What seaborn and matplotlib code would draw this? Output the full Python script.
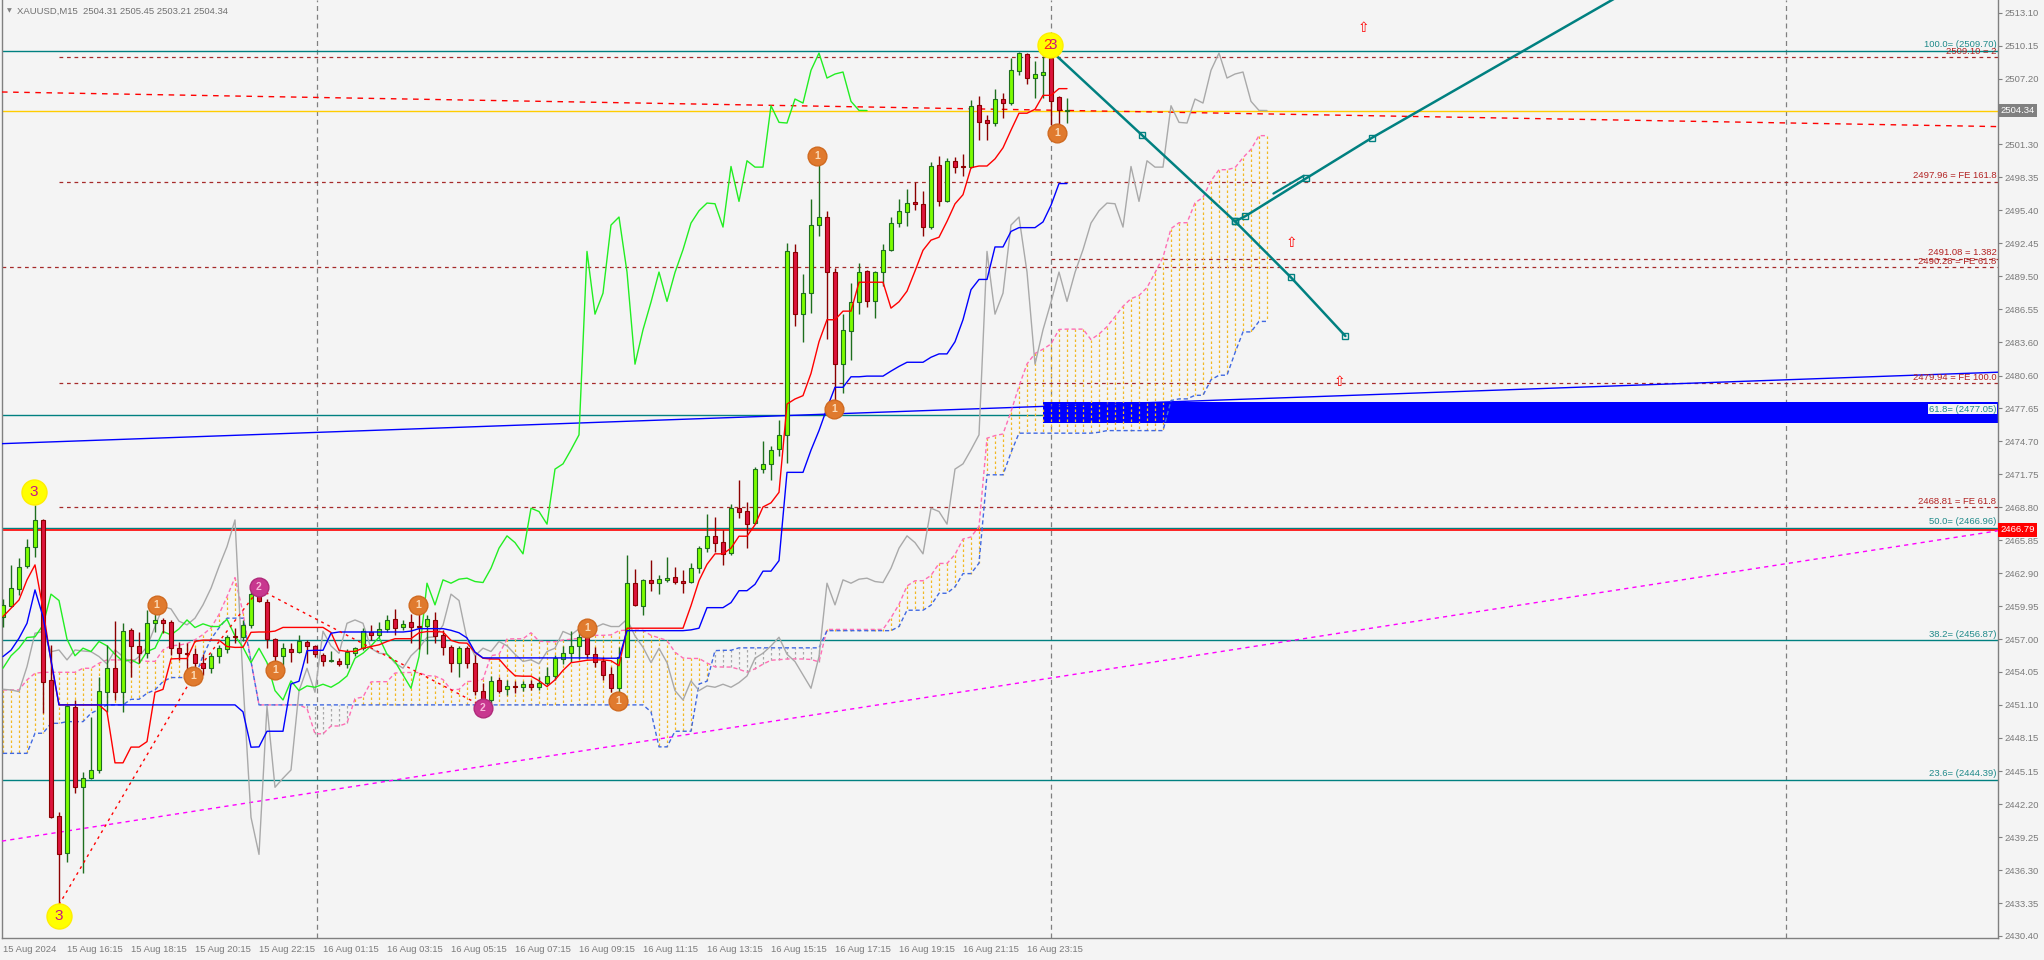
import matplotlib
matplotlib.use("Agg")
import matplotlib.pyplot as plt
import matplotlib.transforms as mtransforms
from matplotlib.patches import Rectangle
import seaborn as sns

# === Candles: XAUUSD M15, bar 0 = 15 Aug 14:15 ===
opens = [2459.01, 2460.0, 2461.46, 2463.55, 2465.28, 2467.67, 2453.34, 2441.15, 2437.8, 2450.95,
         2443.72, 2444.53, 2445.27, 2452.23, 2454.38, 2452.23, 2457.8, 2456.38, 2455.78, 2458.41,
         2458.71, 2458.5, 2456.17, 2455.73, 2455.64, 2454.84, 2454.39, 2455.44, 2456.09, 2457.23,
         2457.17, 2458.27, 2461.02, 2460.36, 2456.99, 2455.5, 2456.12, 2455.88, 2456.72, 2456.39,
         2455.58, 2455.05, 2455.05, 2454.78, 2455.79, 2456.18, 2457.67, 2457.37, 2457.88, 2458.77,
         2458.06, 2458.53, 2458.14, 2458.18, 2458.71, 2457.37, 2456.26, 2454.89, 2456.17, 2454.89,
         2452.38, 2451.54, 2453.34, 2452.5, 2452.8, 2452.68, 2452.98, 2452.68, 2453.1, 2453.69,
         2455.19, 2455.73, 2456.38, 2457.28, 2455.64, 2455.04, 2453.87, 2452.59, 2455.43, 2462.0,
         2460.0, 2462.3, 2462.0, 2462.3, 2462.54, 2462.21, 2462.09, 2463.34, 2465.14, 2466.24,
         2465.67, 2464.69, 2468.78, 2468.48, 2467.38, 2472.22, 2472.66, 2474.01, 2475.29, 2491.66,
         2486.1, 2487.98, 2494.08, 2494.8, 2489.87, 2481.62, 2484.61, 2487.18, 2489.93, 2487.24,
         2489.84, 2491.81, 2494.26, 2495.24, 2496.17, 2495.99, 2493.9, 2499.48, 2496.2, 2499.84,
         2499.39, 2499.27, 2504.83, 2503.46, 2503.22, 2505.37, 2505.01, 2507.85, 2509.43, 2507.25,
         2507.55, 2509.04, 2505.55, 2504.31]
highs = [2460.57, 2463.6, 2464.24, 2465.97, 2469.0, 2467.76, 2456.47, 2441.54, 2451.1, 2451.54,
         2445.12, 2450.05, 2453.57, 2456.47, 2458.62, 2458.4, 2457.97, 2457.67, 2459.61, 2460.0,
         2458.86, 2458.71, 2456.77, 2456.63, 2456.18, 2455.64, 2455.73, 2456.48, 2457.38, 2457.97,
         2458.72, 2461.41, 2461.47, 2460.57, 2457.05, 2456.63, 2456.63, 2457.38, 2456.93, 2456.45,
         2455.73, 2455.94, 2455.29, 2456.09, 2456.33, 2457.97, 2458.27, 2458.56, 2459.16, 2459.67,
         2458.71, 2459.25, 2459.61, 2459.16, 2459.46, 2457.82, 2456.47, 2456.38, 2456.38, 2455.58,
         2453.1, 2453.69, 2453.64, 2453.34, 2453.28, 2453.28, 2453.34, 2453.58, 2454.53, 2455.58,
         2456.38, 2457.76, 2457.82, 2457.67, 2456.26, 2455.37, 2454.53, 2456.32, 2464.54, 2463.25,
         2462.36, 2464.09, 2462.75, 2464.39, 2463.49, 2463.19, 2463.85, 2465.29, 2468.21, 2467.97,
         2466.78, 2469.11, 2471.26, 2469.23, 2472.4, 2474.76, 2474.31, 2476.64, 2492.46, 2492.4,
         2489.72, 2496.44, 2499.93, 2495.3, 2490.22, 2486.1, 2488.88, 2490.67, 2490.08, 2489.93,
         2492.4, 2494.8, 2496.44, 2497.3, 2497.9, 2497.09, 2499.72, 2500.23, 2500.08, 2500.14,
         2500.47, 2505.31, 2505.61, 2503.96, 2506.26, 2505.91, 2509.04, 2509.6, 2509.5, 2508.74,
         2509.19, 2509.7, 2505.61, 2505.45]
lows = [2458.11, 2459.9, 2460.95, 2463.34, 2464.33, 2450.35, 2440.94, 2433.2, 2437.06, 2443.18,
        2436.01, 2444.46, 2444.97, 2450.44, 2451.54, 2450.5, 2453.57, 2454.83, 2455.28, 2457.67,
        2457.52, 2455.58, 2455.13, 2453.79, 2453.94, 2453.79, 2453.94, 2454.84, 2455.73, 2456.63,
        2456.78, 2457.97, 2460.3, 2456.18, 2454.6, 2454.69, 2454.9, 2455.73, 2454.84, 2455.38,
        2454.6, 2454.9, 2454.6, 2454.39, 2455.44, 2456.03, 2456.92, 2457.22, 2457.67, 2457.37,
        2457.82, 2456.68, 2456.08, 2455.67, 2456.68, 2455.58, 2454.08, 2453.64, 2454.38, 2451.99,
        2450.95, 2451.1, 2452.14, 2451.99, 2452.14, 2452.38, 2452.44, 2452.44, 2452.89, 2453.34,
        2454.77, 2454.98, 2455.19, 2455.28, 2454.53, 2453.34, 2452.29, 2451.4, 2455.43, 2459.97,
        2459.16, 2461.34, 2461.04, 2462.15, 2461.94, 2461.16, 2462.06, 2462.9, 2464.84, 2464.84,
        2463.64, 2464.54, 2467.82, 2465.14, 2467.32, 2471.86, 2471.26, 2473.35, 2472.81, 2485.06,
        2483.65, 2486.19, 2493.12, 2483.86, 2477.98, 2479.02, 2482.01, 2486.1, 2486.73, 2485.74,
        2488.58, 2491.72, 2493.9, 2494.02, 2495.45, 2493.12, 2493.75, 2495.75, 2496.11, 2498.74,
        2498.44, 2499.18, 2501.72, 2501.72, 2502.98, 2503.66, 2504.86, 2507.55, 2506.74, 2505.46,
        2505.46, 2503.07, 2502.9, 2503.21]
closes = [2460.06, 2461.55, 2463.49, 2465.28, 2467.67, 2453.19, 2441.03, 2437.71, 2451.0, 2443.72,
          2444.53, 2445.27, 2452.35, 2454.38, 2452.23, 2457.7, 2456.38, 2455.72, 2458.41, 2458.71,
          2458.41, 2456.17, 2455.72, 2455.67, 2454.84, 2454.39, 2455.5, 2456.18, 2457.14, 2457.2,
          2458.24, 2461.02, 2460.45, 2456.99, 2455.5, 2456.18, 2455.88, 2456.78, 2456.39, 2455.64,
          2454.99, 2455.14, 2454.78, 2455.88, 2456.18, 2457.68, 2457.37, 2457.91, 2458.71, 2458.03,
          2458.36, 2458.12, 2458.12, 2458.77, 2457.28, 2456.26, 2454.89, 2456.17, 2454.89, 2452.38,
          2451.54, 2453.25, 2452.38, 2452.8, 2452.68, 2452.95, 2452.68, 2453.1, 2453.69, 2455.28,
          2455.73, 2456.38, 2457.16, 2455.64, 2454.98, 2453.78, 2452.59, 2455.43, 2462.0, 2460.06,
          2462.3, 2462.0, 2462.36, 2462.45, 2462.15, 2462.06, 2463.34, 2465.14, 2466.24, 2465.64,
          2464.63, 2468.72, 2468.42, 2467.29, 2472.22, 2472.69, 2473.95, 2475.29, 2491.72, 2486.1,
          2487.98, 2494.08, 2494.8, 2489.87, 2481.62, 2484.7, 2487.18, 2489.87, 2487.24, 2489.84,
          2491.87, 2494.26, 2495.36, 2496.05, 2495.99, 2493.9, 2499.33, 2496.2, 2499.84, 2499.27,
          2499.27, 2504.77, 2503.28, 2503.22, 2505.37, 2505.01, 2507.94, 2509.49, 2507.25, 2507.61,
          2507.79, 2505.16, 2504.35, 2504.34]

# === Ichimoku lines ===
tenkan = [2459.01, 2459.76, 2460.5, 2462.3, 2463.64, 2459.68, 2454.97, 2451.1, 2451.1, 2451.1,
          2451.1, 2451.1, 2451.1, 2450.48, 2445.91, 2445.91, 2447.32, 2447.32, 2447.81, 2452.23,
          2452.49, 2455.22, 2455.25, 2455.25, 2456.79, 2456.9, 2456.9, 2456.9, 2456.33, 2456.25,
          2456.26, 2457.6, 2457.63, 2457.63, 2457.71, 2458.04, 2458.04, 2458.04, 2458.04, 2458.04,
          2458.04, 2457.59, 2455.99, 2455.89, 2455.89, 2456.18, 2456.33, 2456.48, 2456.78, 2457.03,
          2457.03, 2457.03, 2457.56, 2457.67, 2457.67, 2457.63, 2456.88, 2456.66, 2456.63, 2455.8,
          2455.28, 2455.21, 2455.21, 2454.39, 2453.71, 2453.67, 2453.67, 2453.27, 2452.74, 2453.34,
          2454.19, 2454.88, 2454.98, 2455.1, 2455.13, 2455.13, 2455.06, 2454.61, 2457.97, 2457.97,
          2457.97, 2457.97, 2457.97, 2457.97, 2457.97, 2457.97, 2459.99, 2462.23, 2463.69, 2464.63,
          2464.63, 2465.14, 2466.21, 2466.21, 2467.23, 2468.83, 2469.2, 2470.14, 2478.05, 2478.5,
          2478.8, 2480.79, 2483.63, 2485.6, 2485.6, 2486.37, 2486.37, 2488.96, 2488.96, 2488.96,
          2488.96, 2486.64, 2487.21, 2488.16, 2489.96, 2491.82, 2492.73, 2492.99, 2494.41, 2495.98,
          2496.8, 2499.22, 2499.37, 2499.37, 2500.01, 2501.0, 2502.58, 2504.1, 2504.1, 2504.45,
          2505.7, 2505.7, 2506.3, 2506.3]
kijun = ([2455.43, 2456.0, 2457.07, 2458.41, 2461.4, 2459.0, 2455.13] + [2451.1] * 23 +
         [2450.48, 2447.31, 2447.34, 2448.74, 2448.74, 2448.74, 2452.97, 2453.22, 2455.96, 2455.99,
          2455.99, 2457.52] + [2457.63] * 9 +
         [2457.71, 2457.93, 2457.93, 2457.93, 2457.93, 2457.78, 2457.56, 2457.1, 2455.83] +
         [2455.31] * 15 + [2455.28] * 3 + [2457.75] * 8 +
         [2457.82, 2457.97, 2459.81, 2459.81, 2459.81, 2460.26, 2461.33, 2461.33, 2461.9, 2463.08,
          2463.08, 2464.02, 2471.93, 2471.93, 2471.93, 2473.92, 2475.67, 2477.68, 2479.55, 2479.55,
          2480.49, 2480.49, 2480.55, 2480.55, 2480.55, 2481.0, 2481.42, 2481.79, 2481.79, 2481.79,
          2482.24, 2482.54, 2482.54, 2483.63, 2485.6, 2488.29, 2489.21, 2489.21, 2492.12, 2492.12,
          2493.51, 2493.85, 2493.85, 2493.85, 2494.36, 2495.85, 2497.8, 2497.8])
chikou = [2454.39, 2455.5, 2456.18, 2457.14, 2457.2, 2458.24, 2461.02, 2460.45, 2456.99, 2455.5,
          2456.18, 2455.88, 2456.78, 2456.39, 2455.64, 2454.99, 2455.14, 2454.78, 2455.88, 2456.18,
          2457.68, 2457.37, 2457.91, 2458.71, 2458.03, 2458.36, 2458.12, 2458.12, 2458.77, 2457.28,
          2456.26, 2454.89, 2456.17, 2454.89, 2452.38, 2451.54, 2453.25, 2452.38, 2452.8, 2452.68,
          2452.95, 2452.68, 2453.1, 2453.69, 2455.28, 2455.73, 2456.38, 2457.16, 2455.64, 2454.98,
          2453.78, 2452.59, 2455.43, 2462.0, 2460.06, 2462.3, 2462.0, 2462.36, 2462.45, 2462.15,
          2462.06, 2463.34, 2465.14, 2466.24, 2465.64, 2464.63, 2468.72, 2468.42, 2467.29, 2472.22,
          2472.69, 2473.95, 2475.29, 2491.72, 2486.1, 2487.98, 2494.08, 2494.8, 2489.87, 2481.62,
          2484.7, 2487.18, 2489.87, 2487.24, 2489.84, 2491.87, 2494.26, 2495.36, 2496.05, 2495.99,
          2493.9, 2499.33, 2496.2, 2499.84, 2499.27, 2499.27, 2504.77, 2503.28, 2503.22, 2505.37,
          2505.01, 2507.94, 2509.49, 2507.25, 2507.61, 2507.79, 2505.16, 2504.35, 2504.34]
span_a = ([2452.44, 2452.44, 2452.44, 2453.34, 2453.93, 2454.02, 2454.02, 2454.02, 2454.02, 2454.02,
           2454.38, 2454.38, 2454.83, 2455.13, 2455.13, 2455.13, 2455.13, 2455.13, 2455.0, 2455.0,
           2456.02, 2456.4, 2456.45, 2456.6, 2456.93, 2457.4, 2458.0, 2459.2, 2460.8, 2462.5,
           2459.34, 2455.05] + [2451.1] * 6 +
          [2450.79, 2448.51, 2448.51, 2449.21, 2449.21, 2449.46, 2451.67, 2451.8, 2453.16, 2453.18,
           2453.18, 2453.95, 2454.0, 2454.0, 2454.0, 2453.72, 2453.68, 2453.37, 2452.46, 2452.49,
           2453.19, 2453.23, 2453.39, 2455.51, 2455.63, 2457.0, 2457.02, 2457.02, 2457.56, 2456.81,
           2456.76, 2456.76, 2456.91, 2456.98, 2457.06, 2457.21, 2457.33, 2457.33, 2457.37, 2457.75,
           2457.8, 2457.8, 2457.78, 2457.33, 2457.11, 2456.87, 2455.82, 2455.3, 2455.26, 2455.26,
           2454.85, 2454.51, 2454.49, 2454.49, 2454.29, 2454.03, 2454.33, 2454.75, 2455.1, 2455.15,
           2455.21, 2455.22, 2455.21, 2455.17, 2454.95] + [2457.86] * 8 +
          [2458.91, 2460.1, 2461.75, 2462.22, 2462.22, 2462.7, 2463.77, 2463.77, 2464.57, 2465.96,
           2466.14, 2467.08, 2474.99, 2475.22, 2475.37, 2477.36, 2479.65, 2481.64, 2482.58, 2482.96,
           2483.43, 2484.73, 2484.76, 2484.76, 2484.76, 2483.82, 2484.32, 2484.98, 2485.88, 2486.81,
           2487.49, 2487.77, 2488.48, 2489.81, 2491.2, 2493.76, 2494.29, 2494.29, 2496.07, 2496.56,
           2498.05, 2499.04, 2499.04, 2499.22, 2500.12, 2500.86, 2502.09, 2502.09])
span_b = ([2446.76] * 4 + [2448.56] * 2 + [2449.45] * 2 + [2449.6] * 3 + [2450.35, 2450.7] +
          [2451.1] * 3 + [2451.6] * 2 + [2452.14, 2452.44, 2453.19] + [2453.55] * 4 +
          [2455.5, 2457.0, 2458.0] + [2458.87] * 3 + [2454.97] + [2451.1] * 49 +
          [2450.48, 2447.34, 2447.34, 2448.74, 2448.74, 2448.74, 2452.97, 2453.22, 2455.96, 2455.99,
           2455.99] + [2456.21] * 11 + [2457.75] * 9 +
          [2458.12, 2459.58, 2459.58, 2459.58, 2460.03, 2461.1, 2461.1, 2461.68, 2462.86, 2462.86,
           2463.8, 2471.71, 2471.71, 2471.71, 2473.7] + [2475.44] * 10 + [2475.52] + [2475.67] * 8 +
          [2478.36, 2478.51, 2478.51, 2478.83, 2478.83, 2480.22, 2480.63, 2480.63, 2482.64, 2484.51,
           2484.51, 2485.45, 2485.45])
grey_line = [2452.5, 2452.44, 2452.29, 2454.53, 2457.52, 2457.67, 2455.87, 2456.02, 2455.13, 2456.02,
             2455.93, 2455.87, 2455.43, 2454.77, 2456.02, 2455.43, 2454.83, 2455.43, 2456.32, 2458.12,
             2459.91, 2459.7, 2458.6, 2458.27, 2458.87] + closes

# === Axes, ticks ===
x_tick_pos = [0, 8, 16, 24, 32, 40, 48, 56, 64, 72, 80, 88, 96, 104, 112, 120, 128]
x_tick_labels = ["15 Aug 2024", "15 Aug 16:15", "15 Aug 18:15", "15 Aug 20:15", "15 Aug 22:15",
                 "16 Aug 01:15", "16 Aug 03:15", "16 Aug 05:15", "16 Aug 07:15", "16 Aug 09:15",
                 "16 Aug 11:15", "16 Aug 13:15", "16 Aug 15:15", "16 Aug 17:15", "16 Aug 19:15",
                 "16 Aug 21:15", "16 Aug 23:15"]
y_tick_pos = [2430.40, 2433.35, 2436.30, 2439.25, 2442.20, 2445.15, 2448.15, 2451.10, 2454.05, 2457.00,
              2459.95, 2462.90, 2465.85, 2468.80, 2471.75, 2474.70, 2477.65, 2480.60, 2483.60, 2486.55,
              2489.50, 2492.45, 2495.40, 2498.35, 2501.30, 2504.25, 2507.20, 2510.15, 2513.10]
hidden_tick = 2504.25   # covered by the last-price box
separators = [39.2, 131.0, 222.9]

# === Objects ===
fib_levels = [2509.70, 2477.05, 2466.96, 2456.87, 2444.39]
fib_names = ["100.0", "61.8", "50.0", "38.2", "23.6"]
fe_levels = [2509.10, 2497.96, 2491.08, 2490.28, 2479.94, 2468.81]
fe_texts = ["2509.10 = 2", "2497.96 = FE 161.8", "2491.08 = 1.382", "2490.28 = FE 61.8",
            "2479.94 = FE 100.0", "2468.81 = FE 61.8"]
fe_start = [7, 7, 131, -0.125, 7, 7]
zigzag_x = [7, 24, 32, 60]
zigzag_y = [2433.2, 2453.94, 2461.47, 2450.95]
blue_trend_y = [2474.5, 2480.9]
magenta_trend_y = [2438.9, 2466.7]
red_trend_y = [2506.0, 2502.9]
proj_a_x = [131, 142.4, 154.0, 161.0, 167.8]
proj_a_y = [2509.70, 2502.12, 2494.41, 2489.39, 2484.14]
proj_b_x = [154.0, 155.3, 162.9, 171.1, 202.0]
proj_b_y = [2494.41, 2494.88, 2498.27, 2501.89, 2514.6]
proj_b_extra_x = [158.8, 162.6]
proj_b_extra_y = [2496.9, 2498.5]
arrow_x = [170, 161, 167]
arrow_y = [2511.7, 2492.5, 2480.05]
zone_start, zone_low, zone_high = 130, 2476.35, 2478.2
last_price, line_price = 2504.34, 2466.79

dot1_x = [19.2, 23.75, 34.0, 51.9, 73.0, 76.9, 101.8, 103.9, 131.8]
dot1_y = [2460.07, 2453.65, 2454.23, 2460.07, 2457.97, 2451.43, 2500.3, 2477.6, 2502.35]
dot2_x = [32.0, 60.0]
dot2_y = [2461.65, 2450.8]
dot3_x = [3.9, 7.0]
dot3_y = [2470.15, 2432.2]

# === Style ===
sns.set_style("white")
plt.rcParams['font.family'] = ['Liberation Sans', 'DejaVu Sans']
bg = "#F4F4F4"
axis_grey = "#7A7A7A"

fig = plt.figure(figsize=(20.44, 9.6), dpi=100)
fig.patch.set_facecolor(bg)
ax = fig.add_axes([2 / 2044, 22 / 960, 1996 / 2044, 938 / 960])
ax.set_facecolor(bg)
x_left, x_right = -0.125, 249.375
ax.set_xlim(x_left, x_right)
ax.set_ylim(2430.22, 2514.24)

for sep in separators:
    ax.axvline(sep, color="#808080", lw=0.9, ls=(0, (4, 3)), zorder=1)

# fib / FE levels
for lvl, name in zip(fib_levels, fib_names):
    ax.axhline(lvl, color="#008080", lw=1.0, zorder=2)
    ax.text(x_right - 0.2, lvl + 0.12, f"{name}= ({lvl:.2f})", color="#1F8A8A", fontsize=6.8,
            ha="right", va="bottom", zorder=9,
            bbox=dict(boxstyle="square,pad=0.05", fc=bg, ec="none") if name == "61.8" else None)
for lvl, txt, xs in zip(fe_levels, fe_texts, fe_start):
    ax.plot([xs, x_right], [lvl, lvl], color="#A52A2A", lw=0.9, ls=(0, (3, 3)), zorder=2)
    ax.text(x_right - 0.2, lvl + 0.12, txt, color="#B22222", fontsize=6.8, ha="right", va="bottom", zorder=9)

ax.axhline(last_price, color="#FFCC00", lw=1.0, zorder=2)
ax.axhline(line_price, color="#FF0000", lw=1.2, zorder=2)

# trend lines
ax.plot([x_left, x_right], blue_trend_y, color="#0000FF", lw=1.0, zorder=3)
ax.plot([x_left, x_right], magenta_trend_y, color="#FF00FF", lw=1.0, ls=(0, (3, 3)), zorder=3)
ax.plot([x_left, x_right], red_trend_y, color="#FF0000", lw=1.0, ls=(0, (4, 4)), zorder=3)
ax.add_patch(Rectangle((zone_start, zone_low), x_right - zone_start, zone_high - zone_low,
                       fc="#0000FF", ec="none", zorder=2))

# cloud hatching
for i, (a, b) in enumerate(zip(span_a, span_b)):
    col = "#F2B824" if a >= b else "#A8A8A8"
    ax.plot([i, i], [a, b], color=col, lw=0.9, ls=(0, (2, 2)), zorder=2.5)
idx_span = list(range(len(span_a)))
sns.lineplot(x=idx_span, y=span_a, ax=ax, color="#FF6EB4", lw=1.0, ls=(0, (3, 2)), zorder=3)
sns.lineplot(x=idx_span, y=span_b, ax=ax, color="#4169E1", lw=1.0, ls=(0, (3, 2)), zorder=3)

sns.lineplot(x=list(range(len(grey_line))), y=grey_line, ax=ax, color="#A9A9A9", lw=1.0, zorder=3)
sns.lineplot(x=list(range(len(chikou))), y=chikou, ax=ax, color="#22EE22", lw=1.0, zorder=3)

# candles
for i, (o, h, l, c) in enumerate(zip(opens, highs, lows, closes)):
    up = c > o
    wick = "#1E6E1E" if up else "#8B0000"
    body = "#7CFC00" if up else "#DC143C"
    ax.plot([i, i], [l, h], color=wick, lw=1.0, zorder=4, solid_capstyle="butt")
    lo, hi = min(o, c), max(o, c)
    ax.add_patch(Rectangle((i - 0.3, lo), 0.6, max(hi - lo, 0.08), fc=body, ec=wick, lw=0.8, zorder=5))

sns.lineplot(x=list(range(len(tenkan))), y=tenkan, ax=ax, color="#FF0000", lw=1.0, zorder=6)
sns.lineplot(x=list(range(len(kijun))), y=kijun, ax=ax, color="#0000FF", lw=1.0, zorder=6)
ax.plot(zigzag_x, zigzag_y, color="#FF0000", lw=1.0, ls=(0, (2, 3)), zorder=6)

# projection path
ax.plot(proj_a_x, proj_a_y, color="#008080", lw=1.8, marker="s", ms=4, mfc="none", mec="#008080", zorder=7)
ax.plot(proj_b_x, proj_b_y, color="#008080", lw=1.8, marker="s", ms=4, mfc="none", mec="#008080",
        markevery=[0, 1, 2, 3], zorder=7)
ax.plot(proj_b_extra_x, proj_b_extra_y, color="#008080", lw=1.6, zorder=7)
for xa, ya in zip(arrow_x, arrow_y):
    ax.text(xa, ya, "\u21e7", color="#FF0000", fontsize=10, ha="center", va="center",
            family=["DejaVu Sans"], zorder=7)

# wave markers
for xa, ya in zip(dot1_x, dot1_y):
    ax.plot(xa, ya, "o", ms=13.5, mfc="#E07A2E", mec="#D06A20", zorder=8)
    ax.text(xa, ya, "1", color="#FBD9B5", fontsize=7.5, ha="center", va="center", fontweight="bold", zorder=9)
for xa, ya in zip(dot2_x, dot2_y):
    ax.plot(xa, ya, "o", ms=13.5, mfc="#C8378F", mec="#B02A7A", zorder=8)
    ax.text(xa, ya, "2", color="#F7B6D8", fontsize=7.5, ha="center", va="center", fontweight="bold", zorder=9)
for xa, ya in zip(dot3_x, dot3_y):
    ax.plot(xa, ya, "o", ms=18, mfc="#FFFF00", mec="#FFEE00", zorder=8)
    ax.text(xa, ya, "3", color="#C71585", fontsize=11, ha="center", va="center", zorder=9)
ax.plot(130.9, 2510.2, "o", ms=18, mfc="#FFFF00", mec="#FFEE00", zorder=8)
ax.text(130.6, 2510.2, "2", color="#FF2020", fontsize=11, ha="center", va="center", zorder=9)
ax.text(131.2, 2510.25, "3", color="#C71585", fontsize=11, ha="center", va="center", zorder=9)

# axes look
ax.spines["top"].set_visible(False)
for side in ["left", "right", "bottom"]:
    ax.spines[side].set_color("#808080")
    ax.spines[side].set_linewidth(1.0)
ax.yaxis.tick_right()
ax.set_yticks(y_tick_pos)
ax.set_yticklabels(["" if v == hidden_tick else f"{v:.2f}" for v in y_tick_pos])
ax.set_xticks(x_tick_pos)
ax.set_xticklabels(x_tick_labels, ha="left")
ax.tick_params(axis="both", direction="out", length=3, width=0.8, color="#808080",
               labelcolor=axis_grey, labelsize=6.8)
ax.tick_params(axis="y", pad=2)
ax.tick_params(axis="x", pad=2)
ax.set_xlabel("")
ax.set_ylabel("")
ax.grid(False)

blend = mtransforms.blended_transform_factory(ax.transAxes, ax.transData)
ax.text(1.0012, last_price, f"{last_price:.2f}", transform=blend, color="white", fontsize=6.8,
        va="center", ha="left", bbox=dict(boxstyle="square,pad=0.25", fc="#808080", ec="none"),
        zorder=10, clip_on=False)
ax.text(1.0012, line_price, f"{line_price:.2f}", transform=blend, color="white", fontsize=6.8,
        va="center", ha="left", bbox=dict(boxstyle="square,pad=0.25", fc="#FF0000", ec="none"),
        zorder=10, clip_on=False)

fig.text(7 / 2044, 1 - 11 / 960, "\u25bc", fontsize=4.5, color="#808080", va="center",
         family=["DejaVu Sans"])
fig.text(17 / 2044, 1 - 11 / 960, "XAUUSD,M15  2504.31 2505.45 2503.21 2504.34", fontsize=6.8,
         color="#707070", va="center")

fig.savefig("out.png", dpi=100, facecolor=bg)
